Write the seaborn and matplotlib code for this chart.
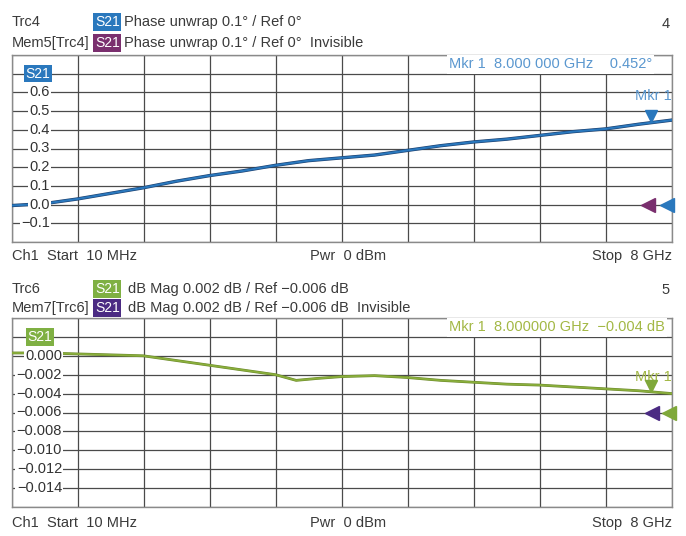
import seaborn as sns
import matplotlib.pyplot as plt
import matplotlib.transforms as mtransforms
import numpy as np
import pandas as pd

# Trace data (frequency in GHz)
freq_phase = [0.01, 0.4, 0.8, 1.2, 1.6, 2.0, 2.4, 2.8, 3.2, 3.6, 4.0,
              4.4, 4.8, 5.2, 5.6, 6.0, 6.4, 6.8, 7.2, 7.6, 8.0]
phase_deg = [-0.005, 0.005, 0.03, 0.06, 0.09, 0.125, 0.155, 0.18, 0.21, 0.235, 0.25,
             0.265, 0.29, 0.315, 0.335, 0.35, 0.37, 0.39, 0.405, 0.43, 0.452]

freq_mag = [0.01, 0.4, 0.8, 1.2, 1.6, 2.0, 2.4, 2.8, 3.2, 3.45, 3.7, 4.0,
            4.4, 4.8, 5.2, 5.6, 6.0, 6.4, 6.8, 7.2, 7.6, 8.0]
mag_db = [0.0003, 0.0003, 0.0002, 0.0001, 0.0, -0.0005, -0.001, -0.0015, -0.002, -0.0026,
          -0.0024, -0.0022, -0.0021, -0.0023, -0.0026, -0.0028, -0.003, -0.0031, -0.0033,
          -0.0035, -0.0037, -0.004]

phase_ticks = [0.6, 0.5, 0.4, 0.3, 0.2, 0.1, 0.0, -0.1]
phase_tick_labels = ["0.6", "0.5", "0.4", "0.3", "0.2", "0.1", "0.0", "\u22120.1"]
mag_ticks = [0.0, -0.002, -0.004, -0.006, -0.008, -0.010, -0.012, -0.014]
mag_tick_labels = ["0.000", "\u22120.002", "\u22120.004", "\u22120.006", "\u22120.008",
                   "\u22120.010", "\u22120.012", "\u22120.014"]

phase_ref, mag_ref = 0.0, -0.006
mkr_freq = 7.75

df_phase = pd.DataFrame({"f": freq_phase, "v": phase_deg})
df_mag = pd.DataFrame({"f": freq_mag, "v": mag_db})

sns.set_style("white")
plt.rcParams['font.family'] = ['Liberation Sans', 'DejaVu Sans']

W, H = 686, 536
fig = plt.figure(figsize=(W / 100, H / 100), dpi=100)


def fx(px):
    return px / W


def fy(py):
    return 1 - py / H


BLUE = "#2a78bd"
BLUE_TXT = "#5a97cf"
GREEN = "#8aaf3c"
GREEN_TXT = "#a3b845"
PURPLE_T = "#7a2f6e"
PURPLE_B = "#4b2b83"
GRID = "#4a4a4a"
FS = 10.5


def badge(x, y, color):
    fig.text(fx(x), fy(y), "S21", color="white", fontsize=FS - 0.5, va="center", ha="left",
             bbox=dict(boxstyle="square,pad=0.12", fc=color, ec="none"))


def panel(top, bottom, ylim, yticks_all):
    ax = fig.add_axes([fx(12), fy(bottom), fx(672) - fx(12), fy(top) - fy(bottom)])
    ax.set_xlim(0.01, 8)
    ax.set_ylim(*ylim)
    ax.set_xticks(np.linspace(0.01, 8, 11))
    ax.set_yticks(yticks_all)
    ax.tick_params(length=0, labelbottom=False, labelleft=False)
    ax.grid(True, color=GRID, lw=0.9)
    for s in ax.spines.values():
        s.set_color("#8a8a8a")
        s.set_linewidth(1.0)
    return ax


# ---------- top panel: phase ----------
ax1 = panel(55, 242, (-0.2, 0.8), np.arange(-0.2, 0.81, 0.1))
sns.lineplot(data=df_phase, x="f", y="v", ax=ax1, color="#1b3f6e", lw=2.4, zorder=3)
sns.lineplot(data=df_phase, x="f", y="v", ax=ax1, color=BLUE, lw=1.5, zorder=4)
ax1.set_xlabel("")
ax1.set_ylabel("")
tr1 = mtransforms.blended_transform_factory(ax1.transAxes, ax1.transData)
for t, lab in zip(phase_ticks, phase_tick_labels):
    ax1.text(0.0576, t, lab, transform=tr1, ha="right", va="center", fontsize=FS, color="#333333",
             bbox=dict(boxstyle="square,pad=0.1", fc="white", ec="none"), zorder=5)
ax1.text(0.02, 0.7, "S21", transform=tr1, ha="left", va="center", fontsize=FS - 0.5, color="white",
         bbox=dict(boxstyle="square,pad=0.12", fc=BLUE, ec="none"), zorder=5)
ax1.text(0.97, 0.75, "Mkr 1  8.000 000 GHz    0.452\u00b0", transform=tr1, ha="right", va="center",
         fontsize=FS, color=BLUE_TXT, bbox=dict(boxstyle="square,pad=0.15", fc="white", ec="none"), zorder=5)
ax1.text(0.999, 0.58, "Mkr 1", transform=tr1, ha="right", va="center", fontsize=FS,
         color=BLUE_TXT, zorder=5)
m1 = np.interp(mkr_freq, freq_phase, phase_deg)
ax1.plot([mkr_freq], [m1 + 0.035], marker="v", ms=9, color=BLUE, zorder=6)
ax1.plot([0.963], [phase_ref], marker="<", ms=10, color=PURPLE_T, transform=tr1, clip_on=False, zorder=6)
ax1.plot([0.992], [phase_ref], marker="<", ms=10, color=BLUE, transform=tr1, clip_on=False, zorder=6)

# ---------- bottom panel: magnitude ----------
ax2 = panel(318, 507, (-0.016, 0.004), np.arange(-0.016, 0.0041, 0.002))
sns.lineplot(data=df_mag, x="f", y="v", ax=ax2, color="#6d8a2c", lw=2.0, zorder=3)
sns.lineplot(data=df_mag, x="f", y="v", ax=ax2, color=GREEN, lw=1.2, zorder=4)
ax2.set_xlabel("")
ax2.set_ylabel("")
tr2 = mtransforms.blended_transform_factory(ax2.transAxes, ax2.transData)
for t, lab in zip(mag_ticks, mag_tick_labels):
    ax2.text(0.0758, t, lab, transform=tr2, ha="right", va="center", fontsize=FS, color="#333333",
             bbox=dict(boxstyle="square,pad=0.1", fc="white", ec="none"), zorder=5)
ax2.text(0.023, 0.002, "S21", transform=tr2, ha="left", va="center", fontsize=FS - 0.5, color="white",
         bbox=dict(boxstyle="square,pad=0.12", fc="#7fb043", ec="none"), zorder=5)
ax2.text(0.989, 0.003, "Mkr 1  8.000000 GHz  \u22120.004 dB", transform=tr2, ha="right", va="center",
         fontsize=FS, color=GREEN_TXT, bbox=dict(boxstyle="square,pad=0.15", fc="white", ec="none"), zorder=5)
ax2.text(0.999, -0.0022, "Mkr 1", transform=tr2, ha="right", va="center", fontsize=FS,
         color=GREEN_TXT, zorder=5)
m2 = np.interp(mkr_freq, freq_mag, mag_db)
ax2.plot([mkr_freq], [m2 + 0.0006], marker="v", ms=9, color="#7fa83a", zorder=6)
ax2.plot([0.97], [mag_ref], marker="<", ms=10, color=PURPLE_B, transform=tr2, clip_on=False, zorder=6)
ax2.plot([0.996], [mag_ref], marker="<", ms=10, color="#7fa83a", transform=tr2, clip_on=False, zorder=6)

# ---------- header / footer texts ----------
txt = dict(fontsize=FS, color="#3a3a3a", va="center", ha="left")
fig.text(fx(12), fy(22), "Trc4", **txt)
badge(95, 22, BLUE)
fig.text(fx(124), fy(22), "Phase unwrap 0.1\u00b0 / Ref 0\u00b0", **txt)
fig.text(fx(12), fy(43), "Mem5[Trc4]", **txt)
badge(95, 43, PURPLE_T)
fig.text(fx(124), fy(43), "Phase unwrap 0.1\u00b0 / Ref 0\u00b0  Invisible", **txt)
fig.text(fx(670), fy(24), "4", fontsize=FS, color="#3a3a3a", va="center", ha="right")

fig.text(fx(12), fy(256), "Ch1  Start  10 MHz", **txt)
fig.text(fx(310), fy(256), "Pwr  0 dBm", **txt)
fig.text(fx(672), fy(256), "Stop  8 GHz", fontsize=FS, color="#3a3a3a", va="center", ha="right")

fig.text(fx(12), fy(289), "Trc6", **txt)
badge(95, 289, "#7fb043")
fig.text(fx(128), fy(289), "dB Mag 0.002 dB / Ref \u22120.006 dB", **txt)
fig.text(fx(12), fy(308), "Mem7[Trc6]", **txt)
badge(95, 308, PURPLE_B)
fig.text(fx(128), fy(308), "dB Mag 0.002 dB / Ref \u22120.006 dB  Invisible", **txt)
fig.text(fx(670), fy(290), "5", fontsize=FS, color="#3a3a3a", va="center", ha="right")

fig.text(fx(12), fy(523), "Ch1  Start  10 MHz", **txt)
fig.text(fx(310), fy(523), "Pwr  0 dBm", **txt)
fig.text(fx(672), fy(523), "Stop  8 GHz", fontsize=FS, color="#3a3a3a", va="center", ha="right")

fig.savefig("out.png", dpi=100)
